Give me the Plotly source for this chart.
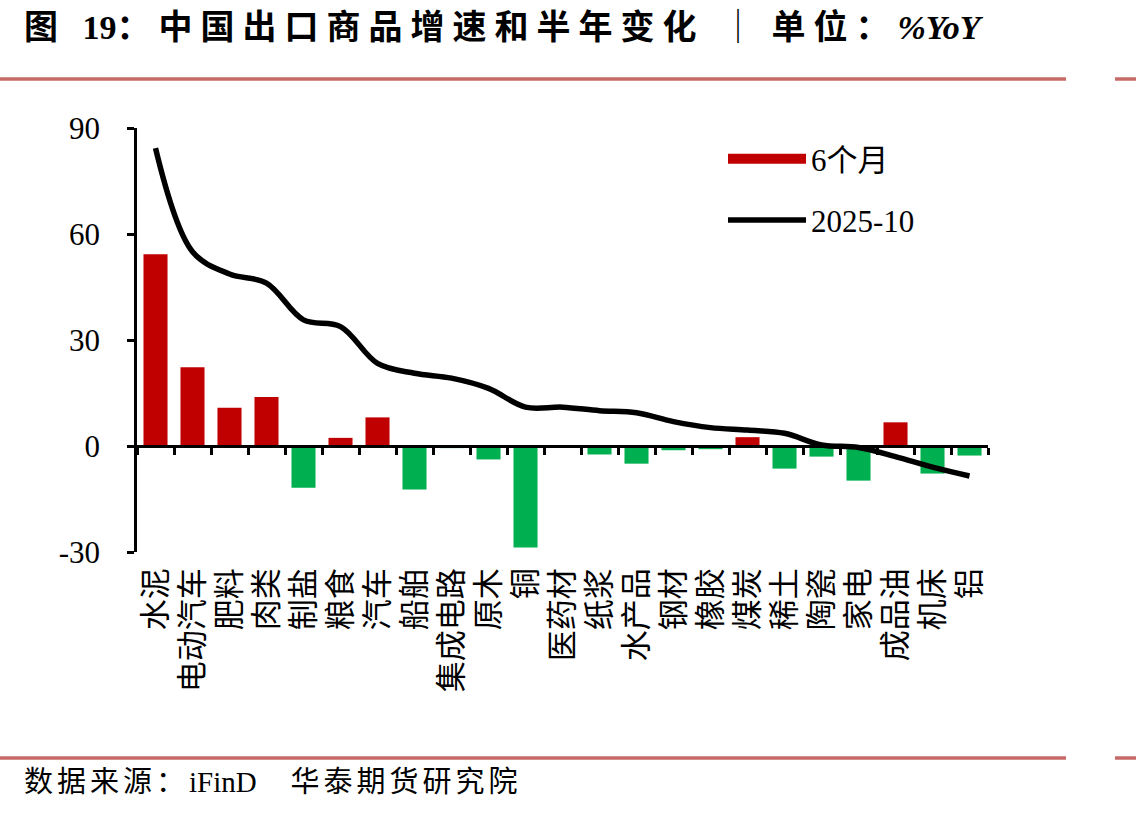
import plotly.graph_objects as go

# ---------------- data ----------------
categories = ["水泥", "电动汽车", "肥料", "肉类", "制盐", "粮食", "汽车", "船舶", "集成电路", "原木", "铜",
              "医药材", "纸浆", "水产品", "钢材", "橡胶", "煤炭", "稀土", "陶瓷", "家电", "成品油", "机床", "铝"]
change_6m = [54.3, 22.3, 10.8, 13.9, -11.8, 2.3, 8.1, -12.3, -0.6, -3.8, -28.7,
             0.0, -2.4, -5.0, -1.2, -0.9, 2.5, -6.4, -3.0, -9.8, 6.7, -7.8, -2.7]
yoy_2025_10 = [84.3, 55.0, 48.7, 46.1, 35.7, 33.8, 23.4, 20.6, 19.2, 16.3, 11.0,
               11.0, 10.0, 9.4, 6.9, 5.2, 4.5, 3.6, 0.3, -0.4, -3.0, -6.0, -8.5]
y_ticks = [-30, 0, 30, 60, 90]
y_range = [-30, 90]
series_names = ["6个月", "2025-10"]

def spaced(s, px):
    return f'<span style="letter-spacing:{px}px">{s}</span>'

title_text = ("<b>" + spaced("图 ", 8) + "19" + spaced("：中国出口商品增速和半年变化 ", 8)
              + "<span style=\"font-weight:normal\">｜</span>" + spaced(" 单位：", 8)
              + "<i>%YoY</i></b>")
source_text = spaced("数据来源：", 4) + "iFinD" + spaced("   华泰期货研究院", 4)

# ---------------- layout geometry ----------------
W, H = 1136, 814
L, R, T, B = 137, 148, 128, 262
PW, PH = W - L - R, H - T - B

def px_x(px):
    return (px - L) / PW

def px_y(py):
    return (H - B - py) / PH

RED = "#C00000"
GREEN = "#00B050"
RULE = "#C66A68"
FONT = "Liberation Serif, Noto Sans CJK SC, serif"
CJK = "Noto Sans CJK SC, Liberation Serif, sans-serif"

bar_colors = [RED if v >= 0 else GREEN for v in change_6m]

fig = go.Figure()
fig.add_trace(go.Bar(
    x=categories, y=change_6m, name=series_names[0],
    marker=dict(color=bar_colors, line=dict(width=0)),
    width=0.65, showlegend=False,
))
# legend proxy for the bars (wide red swatch, no data drawn)
fig.add_trace(go.Scatter(
    x=[categories[0]], y=[None], name=series_names[0], mode="lines",
    line=dict(color=RED, width=16), legendgroup="a", hoverinfo="skip",
))
fig.add_trace(go.Scatter(
    x=categories, y=yoy_2025_10, name=series_names[1], mode="lines",
    line=dict(color="black", width=5.5, shape="spline", smoothing=1.0),
    legendgroup="b",
))
# invisible helper trace for the zero-line axis with boundary ticks
fig.add_trace(go.Scatter(
    x=categories, y=change_6m, xaxis="x2", mode="none",
    showlegend=False, hoverinfo="skip",
))

zero_pos = (0 - y_range[0]) / (y_range[1] - y_range[0])

fig.update_layout(
    width=W, height=H,
    margin=dict(l=L, r=R, t=T, b=B, pad=0),
    paper_bgcolor="white", plot_bgcolor="white",
    showlegend=True,
    xaxis=dict(
        type="category", range=[-0.5, len(categories) - 0.5],
        showline=False, ticks="", showgrid=False, zeroline=False,
        tickangle=-90, tickfont=dict(family=CJK, size=31, color="black"),
        ticklabelstandoff=9,
    ),
    xaxis2=dict(
        type="category", range=[-0.5, len(categories) - 0.5],
        overlaying="x", anchor="free", position=zero_pos, side="bottom",
        showline=True, linecolor="black", linewidth=2.5,
        ticks="outside", tickson="boundaries", ticklen=7, tickwidth=2.5, tickcolor="black",
        showticklabels=False, showgrid=False, zeroline=False,
    ),
    yaxis=dict(
        range=y_range, tickvals=y_ticks, ticktext=[str(v) for v in y_ticks],
        showline=True, linecolor="black", linewidth=2.5,
        ticks="outside", ticklen=7, tickwidth=2.5, tickcolor="black",
        showgrid=False, zeroline=False,
        tickfont=dict(family=FONT, size=31, color="black"),
        ticklabelstandoff=21,
    ),
    legend=dict(
        x=px_x(723), y=px_y(132), xanchor="left", yanchor="top",
        font=dict(family=FONT, size=31, color="black"),
        bgcolor="rgba(0,0,0,0)", borderwidth=0,
        traceorder="grouped", tracegroupgap=18, itemwidth=78,
    ),
)

fig.add_annotation(
    text=title_text, xref="paper", yref="paper",
    x=px_x(22), y=px_y(28), xanchor="left", yanchor="middle",
    showarrow=False, font=dict(family=FONT, size=34, color="black"),
)
fig.add_annotation(
    text=source_text, xref="paper", yref="paper",
    x=px_x(22), y=px_y(782), xanchor="left", yanchor="middle",
    showarrow=False, font=dict(family=FONT, size=29, color="black"),
)

# decorative rules (header / footer)
for py in (79, 758):
    fig.add_shape(type="line", xref="paper", yref="paper",
                  x0=px_x(0), x1=px_x(1066), y0=px_y(py), y1=px_y(py),
                  line=dict(color=RULE, width=3.5))
    fig.add_shape(type="line", xref="paper", yref="paper",
                  x0=px_x(1115), x1=px_x(1136), y0=px_y(py), y1=px_y(py),
                  line=dict(color=RULE, width=3.5))

fig.write_html("out.html")
